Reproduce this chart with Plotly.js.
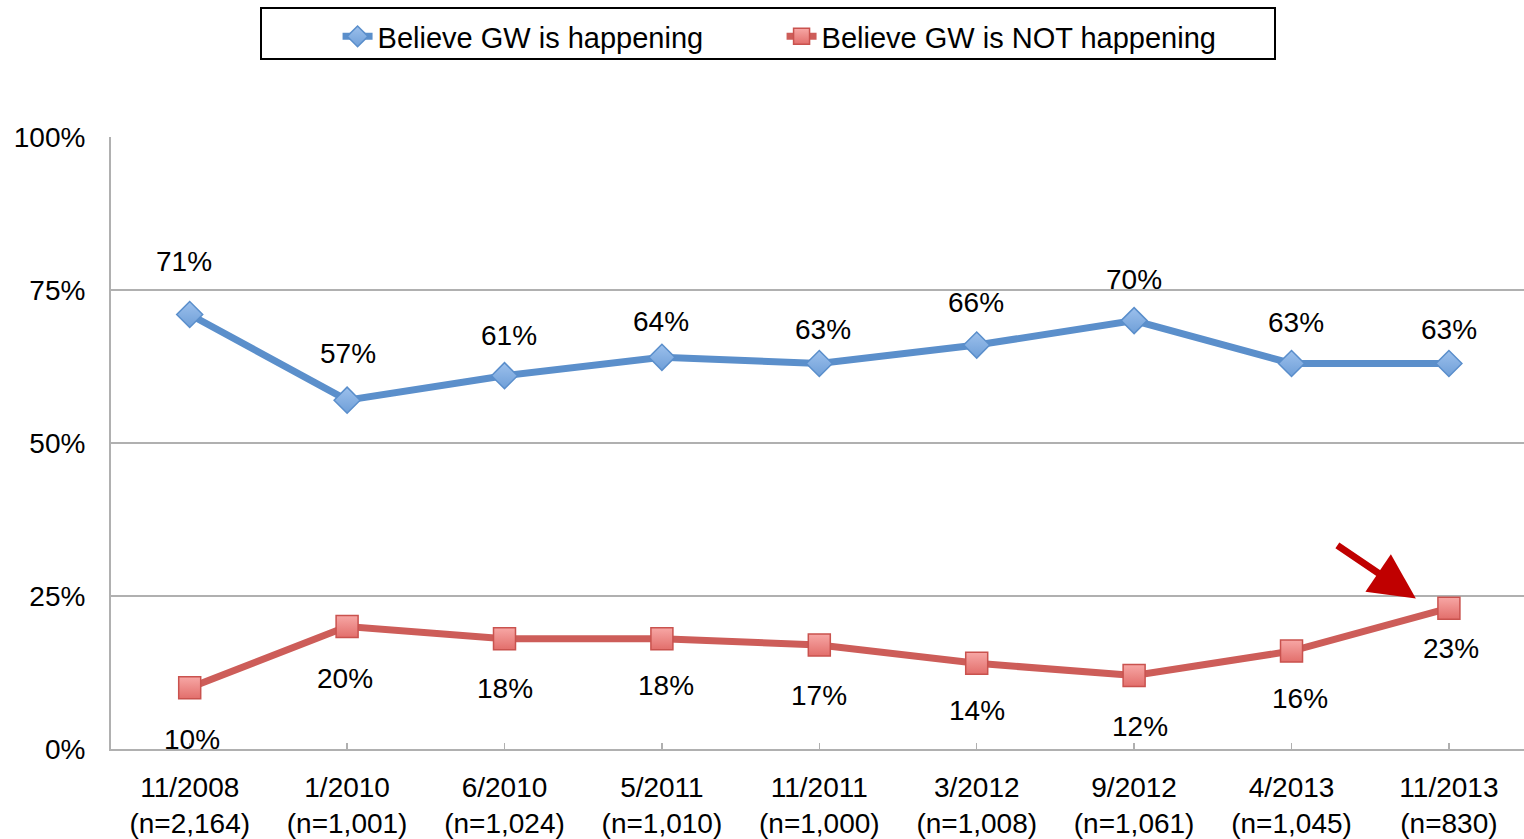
<!DOCTYPE html>
<html>
<head>
<meta charset="utf-8">
<script src="https://cdn.plot.ly/plotly-3.0.1.min.js"></script>
<style>html,body{margin:0;padding:0;background:#fff;}#chart{width:1524px;height:839px;}</style>
</head>
<body>
<div id="chart"></div>
<script>
const categories = ["11/2008<br>(n=2,164)", "1/2010<br>(n=1,001)", "6/2010<br>(n=1,024)", "5/2011<br>(n=1,010)", "11/2011<br>(n=1,000)", "3/2012<br>(n=1,008)", "9/2012<br>(n=1,061)", "4/2013<br>(n=1,045)", "11/2013<br>(n=830)"];
const happening = [71, 57, 61, 64, 63, 66, 70, 63, 63];
const notHappening = [10, 20, 18, 18, 17, 14, 12, 16, 23];
const seriesNames = ["Believe GW is happening", "Believe GW is NOT happening"];
const yTickVals = [0, 25, 50, 75, 100];
const yTickText = ["0%", "25%", "50%", "75%", "100%"];

// label offsets (style only)
const blueShiftY = [53, 47, 40, 36, 34, 43, 41, 41, 34];
const blueShiftX = [-6, 1, 4, -1, 4, -1, 0, 4, 0];
const redShiftY = [52, 52, 50, 47, 51, 47, 51, 47, 40];
const redShiftX = [2, -2, 0, 4, 0, 0, 6, 8, 2];

const FONT = "Liberation Sans, Arial, sans-serif";
const blueLine = "#5B8FCB";
const redLine = "#CD5D59";

const traces = [
  {
    x: categories, y: happening, name: seriesNames[0], type: "scatter", mode: "lines+markers",
    line: {color: blueLine, width: 7},
    marker: {symbol: "diamond", size: 20, color: "#9CC0EC", line: {color: "#5A8ECB", width: 1.5},
             gradient: {type: "vertical", color: "#6F9FD8"}},
    cliponaxis: false
  },
  {
    x: categories, y: notHappening, name: seriesNames[1], type: "scatter", mode: "lines+markers",
    line: {color: redLine, width: 7},
    marker: {symbol: "square", size: 22, color: "#F7A7A5", line: {color: "#C9524E", width: 1.5},
             gradient: {type: "vertical", color: "#E26E6B"}},
    cliponaxis: false
  }
];

const annotations = [];
categories.forEach((c, i) => {
  annotations.push({x: c, y: happening[i], xref: "x", yref: "y", text: happening[i] + "%", showarrow: false,
    yshift: blueShiftY[i], xshift: blueShiftX[i], font: {family: FONT, size: 28, color: "#000"}});
  annotations.push({x: c, y: notHappening[i], xref: "x", yref: "y", text: notHappening[i] + "%", showarrow: false,
    yshift: -redShiftY[i], xshift: redShiftX[i], font: {family: FONT, size: 28, color: "#000"}});
});
// red highlight arrow pointing at last red point
annotations.push({x: 7.79, y: 24.6, xref: "x", yref: "y", text: "", showarrow: true,
  ax: -80, ay: -54, arrowcolor: "#C00000", arrowwidth: 7, arrowhead: 2, arrowsize: 1.3, standoff: 0});

const layout = {
  width: 1524, height: 839,
  margin: {l: 111, r: 0, t: 137, b: 90, pad: 0},
  paper_bgcolor: "#fff", plot_bgcolor: "#fff",
  font: {family: FONT, size: 28, color: "#000"},
  showlegend: true,
  legend: {orientation: "h", xref: "container", yref: "container", x: 0.2215, y: 1 - 11/839, xanchor: "left", yanchor: "top",
    entrywidth: 399, entrywidthmode: "pixels", font: {family: FONT, size: 29, color: "#000"},
    bgcolor: "rgba(0,0,0,0)", borderwidth: 0, traceorder: "normal"},
  xaxis: {type: "category", range: [-0.5, 8.477], showgrid: false, showline: true, linecolor: "#B0B0B0", linewidth: 2,
    ticks: "inside", ticklen: 6, tickcolor: "#B0B0B0", tickwidth: 1.5, ticklabelstandoff: 12,
    tickfont: {family: FONT, size: 28, color: "#000"}, zeroline: false, fixedrange: true},
  yaxis: {range: [0, 100], tickvals: yTickVals, ticktext: yTickText, showgrid: true, gridcolor: "#B0B0B0", gridwidth: 2,
    showline: true, linecolor: "#B0B0B0", linewidth: 2, ticks: "", ticklabelstandoff: 18, zeroline: false,
    tickfont: {family: FONT, size: 28, color: "#000"}, fixedrange: true},
  shapes: [
    {type: "rect", xref: "paper", yref: "paper", x0: (261-111)/1413, x1: (1275-111)/1413, y0: (749-59)/612, y1: (749-8)/612,
     line: {color: "#000", width: 2}, fillcolor: "rgba(0,0,0,0)", layer: "below"}
  ],
  annotations: annotations
};

Plotly.newPlot("chart", traces, layout, {displayModeBar: false, staticPlot: true});
</script>
</body>
</html>
